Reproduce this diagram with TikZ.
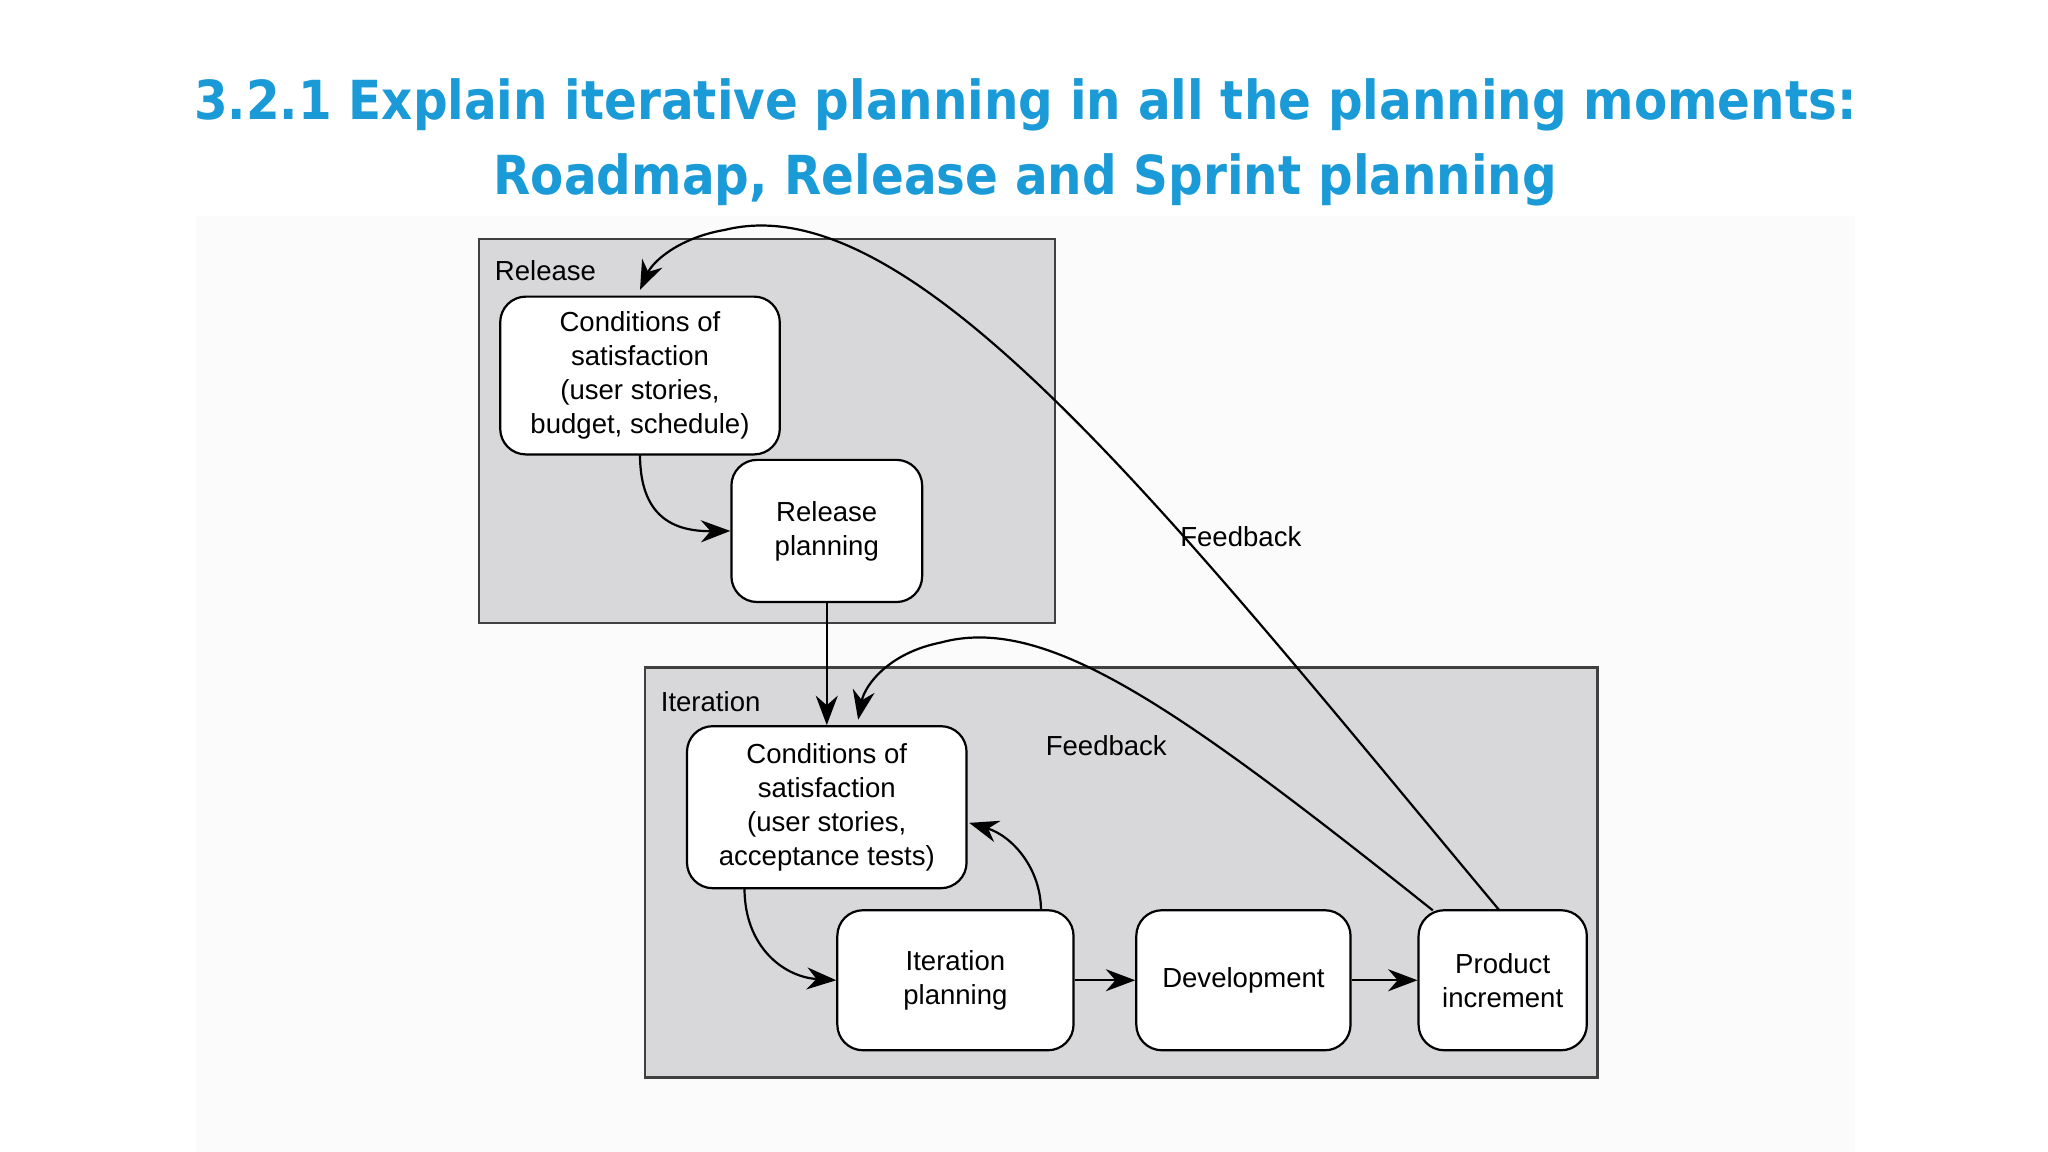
\documentclass[tikz,border=0pt]{standalone}
\usepackage{fontspec}
\setmainfont{Liberation Sans}
\newfontfamily\titlefont{DejaVu Sans Condensed}
\usetikzlibrary{arrows.meta}
\definecolor{titleblue}{HTML}{1A9AD6}
\definecolor{boxgray}{HTML}{D8D8DB}
\tikzset{
  area/.style={draw=black!75, line width=1.2pt, fill=boxgray},
  rbox/.style={draw=black, line width=1.2pt, fill=white, rounded corners=14pt, align=center, font=\fontsize{15}{18.5}\selectfont},
  conn/.style={line width=1.2pt, -{Stealth[length=16pt,width=12pt]}},
  lbl/.style={font=\fontsize{15}{18}\selectfont}
}
\begin{document}
\begin{tikzpicture}[x=0.025cm,y=-0.025cm]
\useasboundingbox[fill=white] (0,0) rectangle (1568,882);
\fill[white!98.5!black] (150,165) rectangle (1420,882);
\node[font=\titlefont\bfseries\fontsize{29.3}{41}\selectfont, text=titleblue, align=center] (title) at (785,109)
 {3.2.1 Explain iterative planning in all the planning moments:\\Roadmap, Release and Sprint planning};
\draw[area] (367,183) rectangle (808,477);
\draw[area] (494,511) rectangle (1223,825);
\node[lbl, anchor=west] (rl) at (374,207) {Release};
\node[lbl, anchor=west] (il) at (501,537) {Iteration};
\node[rbox, minimum width=5.35cm, minimum height=3.02cm] (c1) at (490,287.5) {Conditions of\\satisfaction\\(user stories,\\budget, schedule)};
\node[rbox, minimum width=3.65cm, minimum height=2.72cm] (rp) at (633,406.5) {Release\\planning};
\node[rbox, minimum width=5.35cm, minimum height=3.1cm] (c2) at (633,618) {Conditions of\\satisfaction\\(user stories,\\acceptance tests)};
\node[rbox, minimum width=4.52cm, minimum height=2.68cm] (ip) at (731.5,750.5) {Iteration\\planning};
\node[rbox, minimum width=4.1cm, minimum height=2.68cm] (dv) at (952,750.5) {Development};
\node[rbox, minimum width=3.22cm, minimum height=2.68cm] (pi) at (1150.5,750.5) {Product\\increment};
\node[lbl] (fb1) at (950,411) {Feedback};
\node[lbl] (fb2) at (847,571) {Feedback};
\coordinate (a1) at (490,348);
\draw[conn] (a1) .. controls (490,395) and (515,407) .. (rp.west);
\draw[conn] (rp.south) -- (c2.north);
\coordinate (a2) at (570,680);
\draw[conn] (a2) .. controls (570,725) and (600,748) .. (ip.west);
\coordinate (a3) at (797,697);
\coordinate (a4) at (742,630);
\draw[conn] (a3) .. controls (797,665) and (775,640) .. (a4);
\draw[conn] (ip) -- (dv);
\draw[conn] (dv) -- (pi);
\coordinate (f1s) at (1148,697);
\coordinate (f1e) at (490,222);
\draw[conn] (f1s) .. controls (900,400) and (700,140) .. (555,176) .. controls (520,182) and (500,200) .. (f1e);
\coordinate (f2s) at (1097,697);
\coordinate (f2e) at (657,551);
\draw[conn] (f2s) .. controls (900,540) and (800,470) .. (720,492) .. controls (680,500) and (662,525) .. (f2e);
\end{tikzpicture}
\end{document}
